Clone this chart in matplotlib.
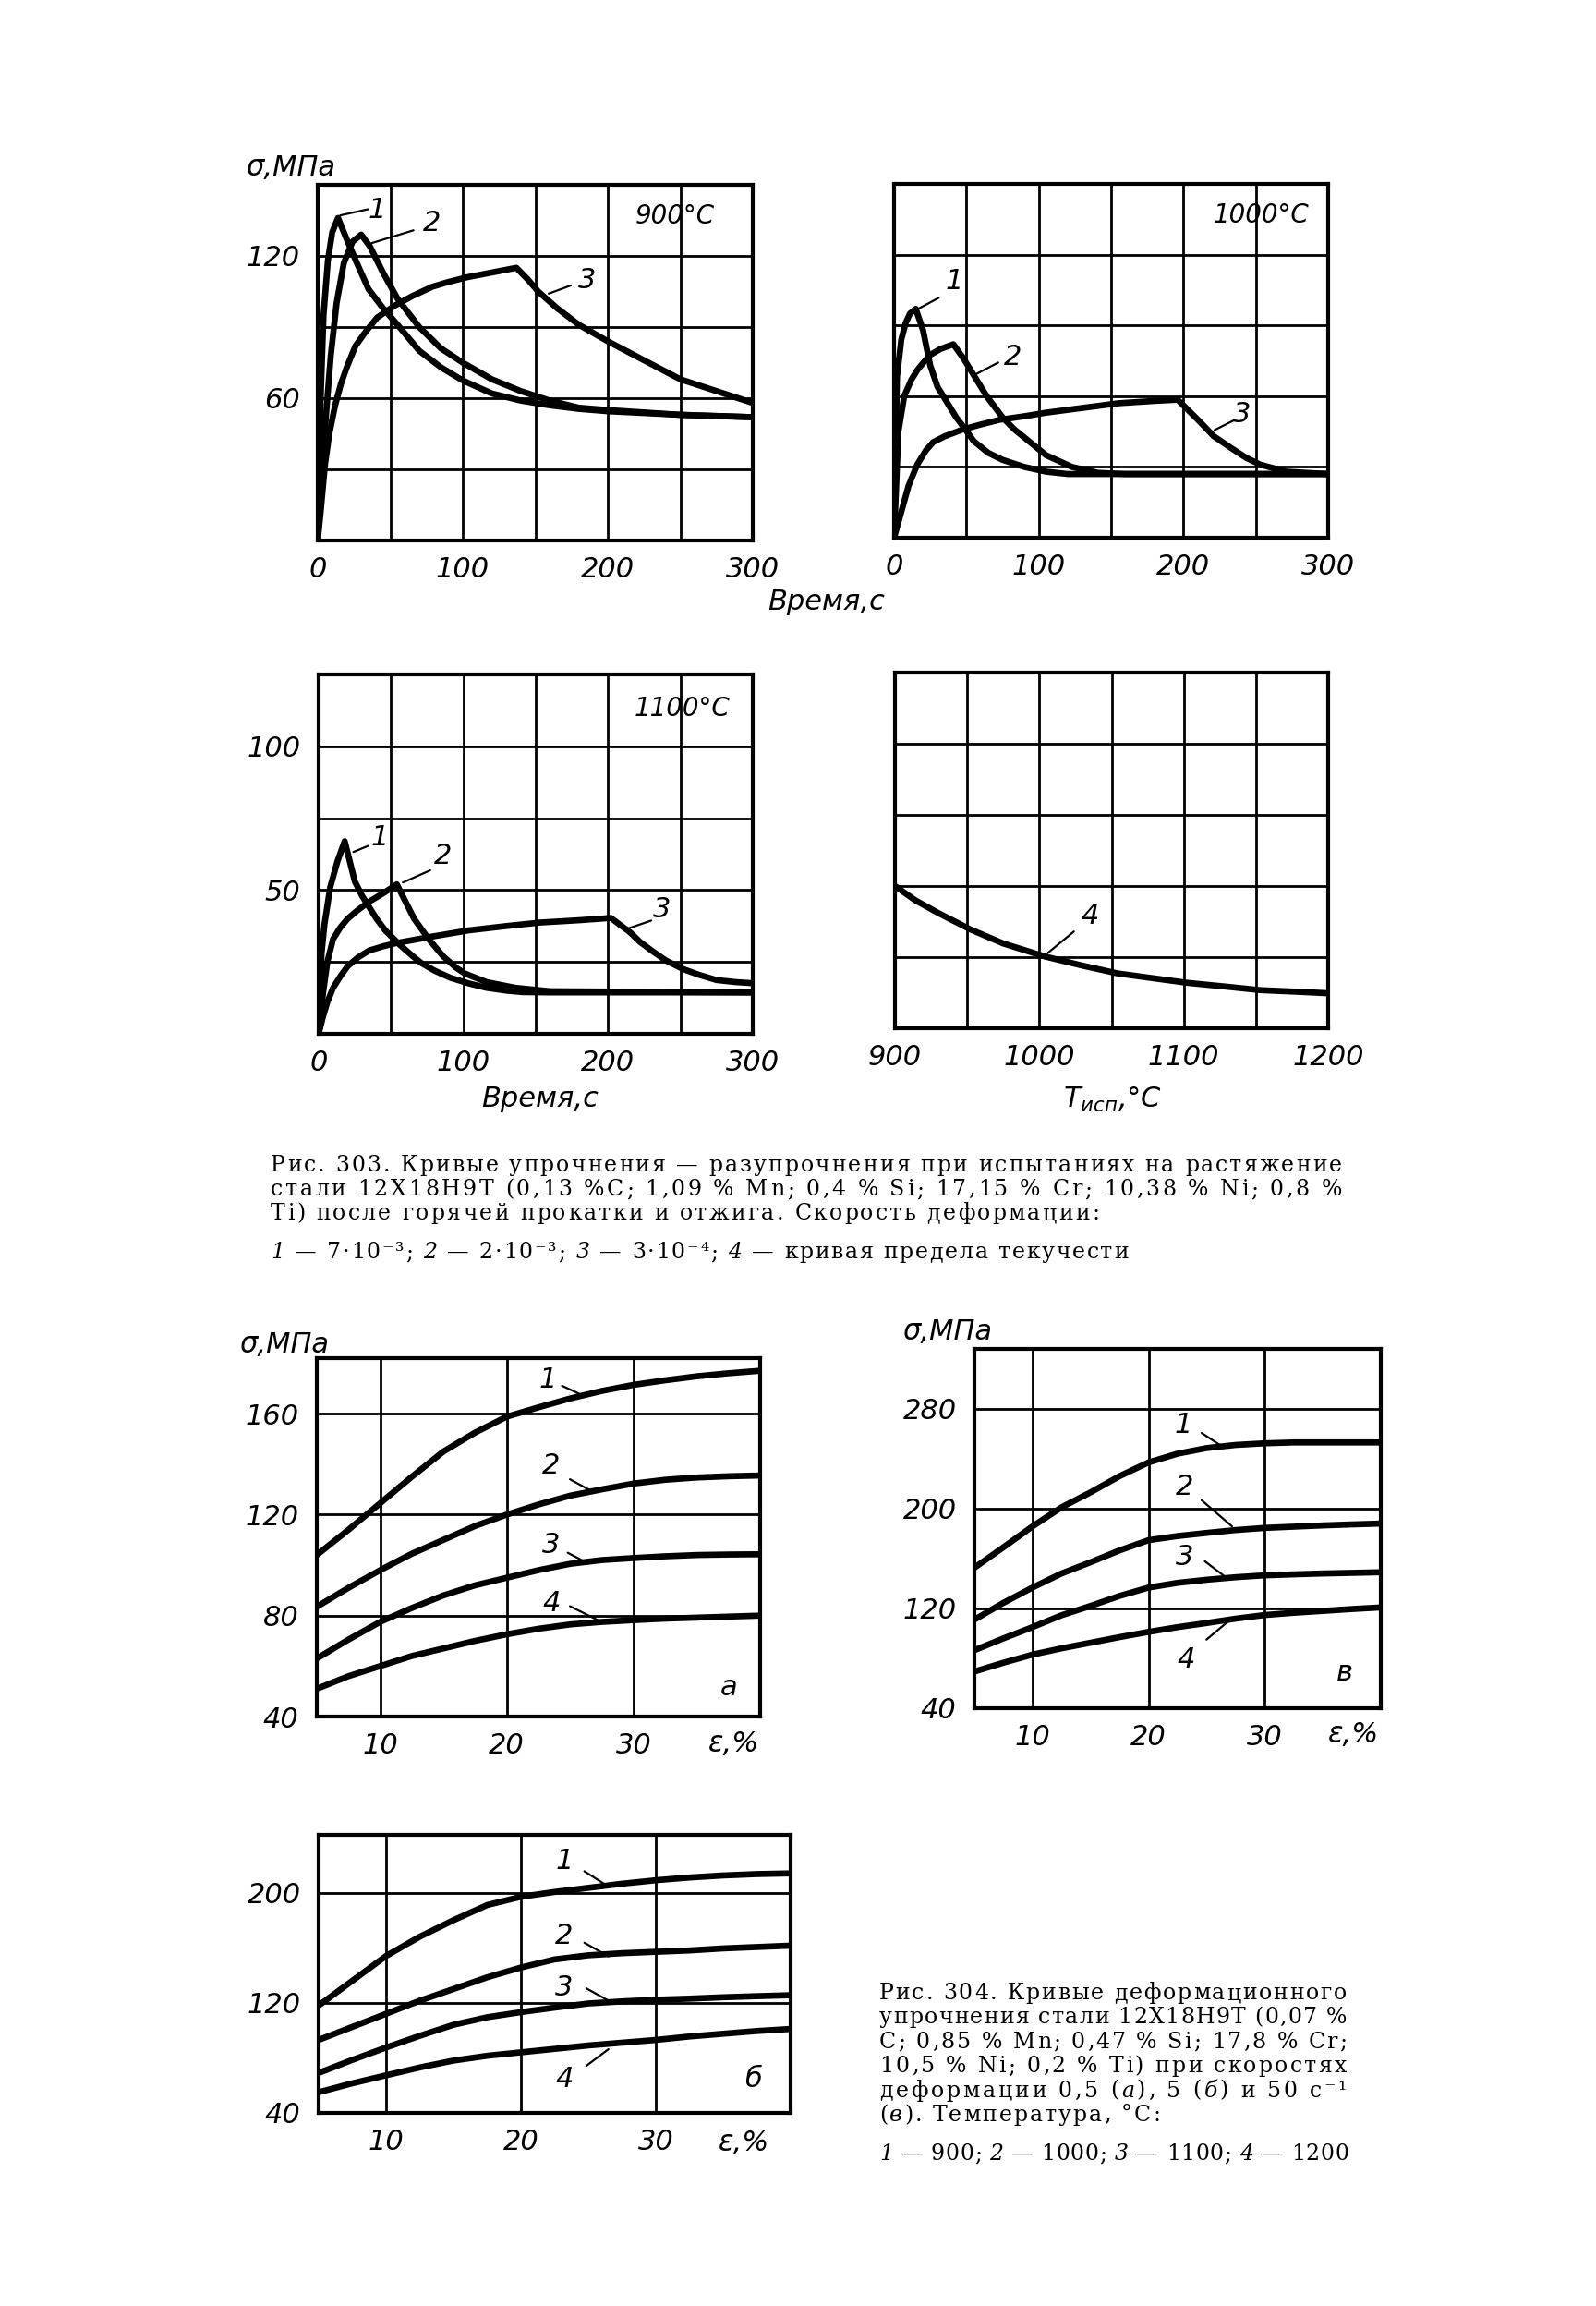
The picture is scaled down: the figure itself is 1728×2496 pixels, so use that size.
import matplotlib
matplotlib.use("Agg")
import matplotlib.pyplot as plt
from matplotlib.font_manager import FontProperties

# ---- data ----
# Fig. 303, 900 C (time, s -> stress, MPa)
t1_900 = [0, 2, 4, 7, 10, 14, 20, 27, 35, 45, 55, 70, 85, 100, 120, 140, 160, 180, 200, 250, 300]
s1_900 = [0, 60, 95, 118, 130, 136, 127, 117, 106, 98, 91, 80, 73, 67.5, 62, 59, 57, 55.5, 54.5, 53, 52]
t2_900 = [0, 3, 6, 9, 13, 18, 24, 30, 36, 45, 55, 70, 85, 100, 120, 140, 160, 180, 200, 250, 300]
s2_900 = [0, 30, 55, 78, 100, 117, 126, 129, 124, 113, 102, 90, 81, 75, 68, 63, 59, 56, 55, 53, 52]
t3_900 = [0, 2, 5, 8, 12, 16, 20, 26, 33, 41, 53, 65, 79, 90, 103, 120, 137, 145, 152, 165, 180, 200, 225, 250, 275, 300]
s3_900 = [0, 12, 32, 45, 57, 66, 73, 82, 88, 94, 99, 103, 107, 109, 111, 113, 115, 110, 105, 98, 91, 84, 76, 68, 63, 58]

# 1000 C
t1_1000 = [0, 2, 5, 8, 11, 15, 20, 25, 30, 37, 43, 48, 55, 65, 75, 90, 105, 120, 140, 300]
s1_1000 = [0, 68, 84, 91, 95, 97, 88, 73, 64, 57, 51, 47, 41, 36, 33, 30, 28, 27, 27, 27]
t2_1000 = [0, 3, 7, 12, 16, 20, 25, 32, 41, 48, 55, 64, 75, 83, 91, 105, 123, 141, 160, 300]
s2_1000 = [0, 45, 60, 67, 71, 74, 77.5, 80, 82, 76, 69, 60, 51, 46, 42, 35, 30, 27.5, 27, 27]
t3_1000 = [0, 5, 10, 16, 22, 27, 35, 48, 60, 73, 90, 105, 130, 155, 180, 196, 210, 221, 233, 243, 253, 262, 271, 285, 300]
s3_1000 = [0, 11, 22, 31, 37, 40.5, 43, 46, 48, 50, 51.5, 53, 55, 57, 58, 58.5, 50, 43, 38, 34, 31, 29.5, 28, 27.5, 27]

# 1100 C
t1_1100 = [0, 2, 4, 8, 13, 18, 25, 30, 35, 40, 46, 56, 65, 71, 80, 91, 104, 116, 130, 141, 160, 300]
s1_1100 = [0, 28, 38, 51, 60, 67, 53, 48, 44, 40, 36, 31, 27, 24.6, 22, 19.5, 17.5, 16, 15, 14.5, 14.4, 14.4]
t2_1100 = [0, 3, 6, 10, 15, 20, 27, 35, 45, 54, 60, 66, 76, 86, 95, 101, 116, 136, 160, 300]
s2_1100 = [0, 14, 25, 33, 37, 40, 43, 46, 49, 52, 46, 40, 33, 27, 23, 21, 18, 16, 14.8, 14.4]
t3_1100 = [0, 3, 6, 10, 15, 20, 27, 35, 45, 54, 78, 104, 130, 153, 180, 202, 208, 215, 222, 230, 240, 252, 263, 275, 288, 300]
s3_1100 = [0, 6, 11, 16, 20, 23.5, 26.5, 29, 30.5, 31.6, 33.8, 36, 37.5, 38.7, 39.5, 40.3, 38, 35.4, 32, 29, 25.5, 22.5, 20.5, 18.7, 18, 17.6]

# yield curve 4 (test temperature -> stress)
T4 = [900, 914, 930, 952, 975, 1004, 1030, 1054, 1080, 1102, 1130, 1153, 1180, 1200]
s4 = [50, 45, 40.5, 34.8, 29.8, 25.2, 22, 19.3, 17.5, 16, 14.6, 13.4, 12.8, 12.3]

# Fig. 304 (strain, % -> stress, MPa), curves 1..4 = 900, 1000, 1100, 1200 C
eps = [5, 7.5, 10, 12.5, 15, 17.5, 20, 22.5, 25, 27.5, 30, 32.5, 35, 37.5, 40]
a1 = [104, 114, 124.5, 135, 145, 152.5, 158.8, 162.5, 166, 169, 171.4, 173.2, 174.8, 176, 177]
a2 = [83.5, 91, 98, 104.5, 110, 115.5, 120, 124, 127.5, 130, 132.3, 133.8, 134.7, 135.2, 135.5]
a3 = [63, 70.5, 77.5, 83, 88, 92, 95, 98, 100.5, 102, 102.8, 103.5, 104, 104.2, 104.3]
a4 = [51, 56, 60, 64, 67, 70, 72.6, 74.8, 76.5, 77.5, 78.2, 78.8, 79.2, 79.6, 80]
b1 = [118, 136, 154, 168, 180, 191, 197, 200.5, 203.5, 206.5, 209, 211, 212.5, 213.5, 214]
b2 = [93, 102.5, 112, 121.5, 130, 138.5, 145.6, 151.5, 154.5, 156, 157, 158, 159.5, 160.5, 161.5]
b3 = [69, 78.5, 87.5, 96, 104, 109.5, 113.2, 116.5, 119.5, 121, 122.2, 123, 124, 124.8, 125.5]
b4 = [55, 61.5, 67.3, 73, 78, 81.5, 84, 86.5, 89, 91, 93, 95.5, 97.5, 99.5, 101]
c1 = [152.6, 169, 185.7, 201, 213, 226, 237, 244, 248.5, 251, 252.3, 253, 253, 253, 253]
c2 = [111, 124.5, 136.7, 148, 157, 166.5, 174.7, 178, 180.5, 182.8, 184.5, 185.5, 186.5, 187.3, 188]
c3 = [86.5, 96, 105, 114.5, 122, 130, 136.7, 140.5, 143, 145, 146.5, 147.3, 148, 148.5, 149]
c4 = [69.4, 76.5, 83, 88, 92.5, 97, 101.2, 105, 108.3, 111.8, 114.7, 116.5, 118, 119.5, 120.8]

W, H = 1728, 2496
fig = plt.figure(figsize=(W / 100, H / 100), dpi=100)
fig.patch.set_facecolor("white")

IT = dict(family="DejaVu Sans", style="italic")
TICK_FS = 22


def rect(x0, y0, x1, y1):
    return [x0 / W, 1 - y1 / H, (x1 - x0) / W, (y1 - y0) / H]


def panel(r, xlim, ylim, xmaj, xmin, ymaj, ymin, xlab=True, ylab=True):
    ax = fig.add_axes(r)
    ax.set_xlim(xlim)
    ax.set_ylim(ylim)
    ax.set_xticks(xmaj, labels=[str(v) if xlab else "" for v in xmaj], fontsize=TICK_FS, **IT)
    ax.set_yticks(ymaj, labels=[str(v) if ylab else "" for v in ymaj], fontsize=TICK_FS, **IT)
    ax.set_xticks(xmin, minor=True)
    ax.set_yticks(ymin, minor=True)
    ax.grid(True, which="both", color="black", lw=2.0)
    ax.tick_params(which="both", length=0)
    ax.tick_params(axis="x", pad=12)
    ax.tick_params(axis="y", pad=14)
    for sp in ax.spines.values():
        sp.set_linewidth(3.0)
    return ax


def curve(ax, x, y, lw=4.8):
    ax.plot(x, y, color="black", lw=lw, solid_joinstyle="round", solid_capstyle="round")


def tag(ax, s, pos, lead=None, fs=22):
    ax.text(pos[0], pos[1], s, transform=ax.transAxes, ha="center", va="center", fontsize=fs, **IT)
    if lead is not None:
        ax.plot([lead[0], lead[2]], [lead[1], lead[3]], transform=ax.transAxes,
                color="black", lw=1.6, solid_capstyle="round")


def ftext(x, y, s, fs=22, ha="center"):
    fig.text(x / W, 1 - y / H, s, ha=ha, va="center", fontsize=fs, **IT)


# ---- Fig. 303 ----
ax1 = panel(rect(344, 200, 815, 585), (0, 300), (0, 150), [0, 100, 200, 300], [50, 150, 250],
            [60, 120], [30, 90])
curve(ax1, t1_900, s1_900)
curve(ax1, t2_900, s2_900)
curve(ax1, t3_900, s3_900)
tag(ax1, "1", (0.136, 0.928), (0.052, 0.914, 0.115, 0.931))
tag(ax1, "2", (0.262, 0.893), (0.124, 0.836, 0.220, 0.872))
tag(ax1, "3", (0.619, 0.731), (0.531, 0.694, 0.582, 0.717))
ax1.text(0.821, 0.912, "900°C", transform=ax1.transAxes, ha="center", va="center", fontsize=20, **IT)
ftext(315, 182, "σ,МПа")

ax2 = panel(rect(968, 199, 1438, 582), (0, 300), (0, 150), [0, 100, 200, 300], [50, 150, 250],
            [60, 120], [30, 90], ylab=False)
curve(ax2, t1_1000, s1_1000)
curve(ax2, t2_1000, s2_1000)
curve(ax2, t3_1000, s3_1000)
tag(ax2, "1", (0.138, 0.724), (0.053, 0.645, 0.103, 0.678))
tag(ax2, "2", (0.274, 0.511), (0.190, 0.463, 0.240, 0.495))
tag(ax2, "3", (0.802, 0.349), (0.738, 0.304, 0.783, 0.332))
ax2.text(0.846, 0.911, "1000°C", transform=ax2.transAxes, ha="center", va="center", fontsize=20, **IT)
ftext(895, 652, "Время,с")

ax3 = panel(rect(345, 730, 815, 1119), (0, 300), (0, 125), [0, 100, 200, 300], [50, 150, 250],
            [50, 100], [25, 75])
curve(ax3, t1_1100, s1_1100)
curve(ax3, t2_1100, s2_1100)
curve(ax3, t3_1100, s3_1100)
tag(ax3, "1", (0.141, 0.545), (0.080, 0.506, 0.114, 0.523))
tag(ax3, "2", (0.286, 0.494), (0.194, 0.421, 0.257, 0.455))
tag(ax3, "3", (0.791, 0.345), (0.715, 0.294, 0.766, 0.315))
ax3.text(0.838, 0.906, "1100°C", transform=ax3.transAxes, ha="center", va="center", fontsize=20, **IT)
ftext(585, 1190, "Время,с")

ax4 = panel(rect(969, 728, 1438, 1113), (900, 1200), (0, 125), [900, 1000, 1100, 1200],
            [950, 1050, 1150], [50, 100], [25, 75], ylab=False)
curve(ax4, T4, s4)
tag(ax4, "4", (0.450, 0.315), (0.352, 0.211, 0.413, 0.272))
ftext(1205, 1190, r"$\mathit{T}_{\mathit{исп}}$,°C")

# ---- Fig. 304 ----
axa = panel(rect(343, 1470, 823, 1858), (5, 40), (40, 182), [10, 20, 30], [],
            [40, 80, 120, 160], [])
for ys in (a1, a2, a3, a4):
    curve(axa, eps, ys)
tag(axa, "1", (0.521, 0.939), (0.553, 0.923, 0.598, 0.897))
tag(axa, "2", (0.528, 0.699), (0.571, 0.662, 0.621, 0.628))
tag(axa, "3", (0.528, 0.479), (0.566, 0.457, 0.612, 0.427))
tag(axa, "4", (0.530, 0.315), (0.571, 0.308, 0.634, 0.269))
tag(axa, "а", (0.930, 0.081))
ftext(308, 1455, "σ,МПа")
ftext(794, 1888, "ε,%")

axc = panel(rect(1055, 1460, 1495, 1849), (5, 40), (40, 328), [10, 20, 30], [],
            [40, 120, 200, 280], [])
for ys in (c1, c2, c3, c4):
    curve(axc, eps, ys)
tag(axc, "1", (0.514, 0.789), (0.559, 0.766, 0.605, 0.732))
tag(axc, "2", (0.517, 0.615), (0.559, 0.579, 0.634, 0.506))
tag(axc, "3", (0.517, 0.421), (0.567, 0.409, 0.617, 0.366))
tag(axc, "4", (0.521, 0.136), (0.571, 0.191, 0.630, 0.247))
tag(axc, "в", (0.912, 0.098))
ftext(1026, 1442, "σ,МПа")
ftext(1465, 1877, "ε,%")

axb = panel(rect(345, 1986, 856, 2287), (5, 40), (40, 242), [10, 20, 30], [],
            [40, 120, 200], [])
for ys in (b1, b2, b3, b4):
    curve(axb, eps, ys)
tag(axb, "1", (0.520, 0.905), (0.563, 0.869, 0.614, 0.814))
tag(axb, "2", (0.520, 0.636), (0.563, 0.612, 0.614, 0.563))
tag(axb, "3", (0.520, 0.450), (0.567, 0.448, 0.614, 0.404))
tag(axb, "4", (0.520, 0.120), (0.614, 0.229, 0.567, 0.169))
tag(axb, "б", (0.920, 0.120))
ftext(805, 2320, "ε,%")

# ---- captions (letter-spaced, justified like the book) ----
renderer = fig.canvas.get_renderer()
SERIF = ["DejaVu Serif", "DejaVu Sans"]
CAP_FS = 17


def char_w(ch, prop):
    w1 = renderer.get_text_width_height_descent("|" + ch + "|", prop, ismath=False)[0]
    w0 = renderer.get_text_width_height_descent("||", prop, ismath=False)[0]
    return w1 - w0


def spaced(segs, x0, x1, base, size=CAP_FS):
    props = {st: FontProperties(family=SERIF, style=st, size=size) for st in ("normal", "italic")}
    chars = [(ch, st) for txt, st in segs for ch in txt]
    widths = [char_w(ch, props[st]) for ch, st in chars]
    gap = (x1 - x0 - sum(widths)) / max(len(chars) - 1, 1)
    x = x0
    for (ch, st), w in zip(chars, widths):
        if ch != " ":
            fig.text(x / W, 1 - base / H, ch, fontproperties=props[st], ha="left", va="baseline")
        x += w + gap


N, I = "normal", "italic"
cap303 = [
    ([("Рис. 303. Кривые упрочнения — разупрочнения при испытаниях на растяжение", N)], 1453),
    ([("стали 12Х18Н9Т (0,13 %С; 1,09 % Mn; 0,4 % Si; 17,15 % Cr; 10,38 % Ni; 0,8 %", N)], 1453),
    ([("Ti) после горячей прокатки и отжига. Скорость деформации:", N)], 1190),
]
for k, (segs, x1) in enumerate(cap303):
    spaced(segs, 293, x1, 1268 + 26 * k)
spaced([("1", I), (" — 7·10⁻³; ", N), ("2", I), (" — 2·10⁻³; ", N), ("3", I),
        (" — 3·10⁻⁴; ", N), ("4", I), (" — кривая предела текучести", N)], 293, 1222, 1362)

cap304 = [
    ([("Рис. 304. Кривые деформационного", N)], 1458),
    ([("упрочнения стали 12Х18Н9Т (0,07 %", N)], 1458),
    ([("С; 0,85 % Mn; 0,47 % Si; 17,8 % Cr;", N)], 1458),
    ([("10,5 % Ni; 0,2 % Ti) при скоростях", N)], 1458),
    ([("деформации 0,5 (", N), ("а", I), ("), 5 (", N), ("б", I), (") и 50 с⁻¹", N)], 1458),
    ([("(", N), ("в", I), ("). Температура, °С:", N)], 1256),
]
for k, (segs, x1) in enumerate(cap304):
    spaced(segs, 952, x1, 2164 + 26.4 * k)
spaced([("1", I), (" — 900; ", N), ("2", I), (" — 1000; ", N), ("3", I), (" — 1100; ", N),
        ("4", I), (" — 1200", N)], 952, 1460, 2338)

fig.savefig("out.png", dpi=100, facecolor="white")
